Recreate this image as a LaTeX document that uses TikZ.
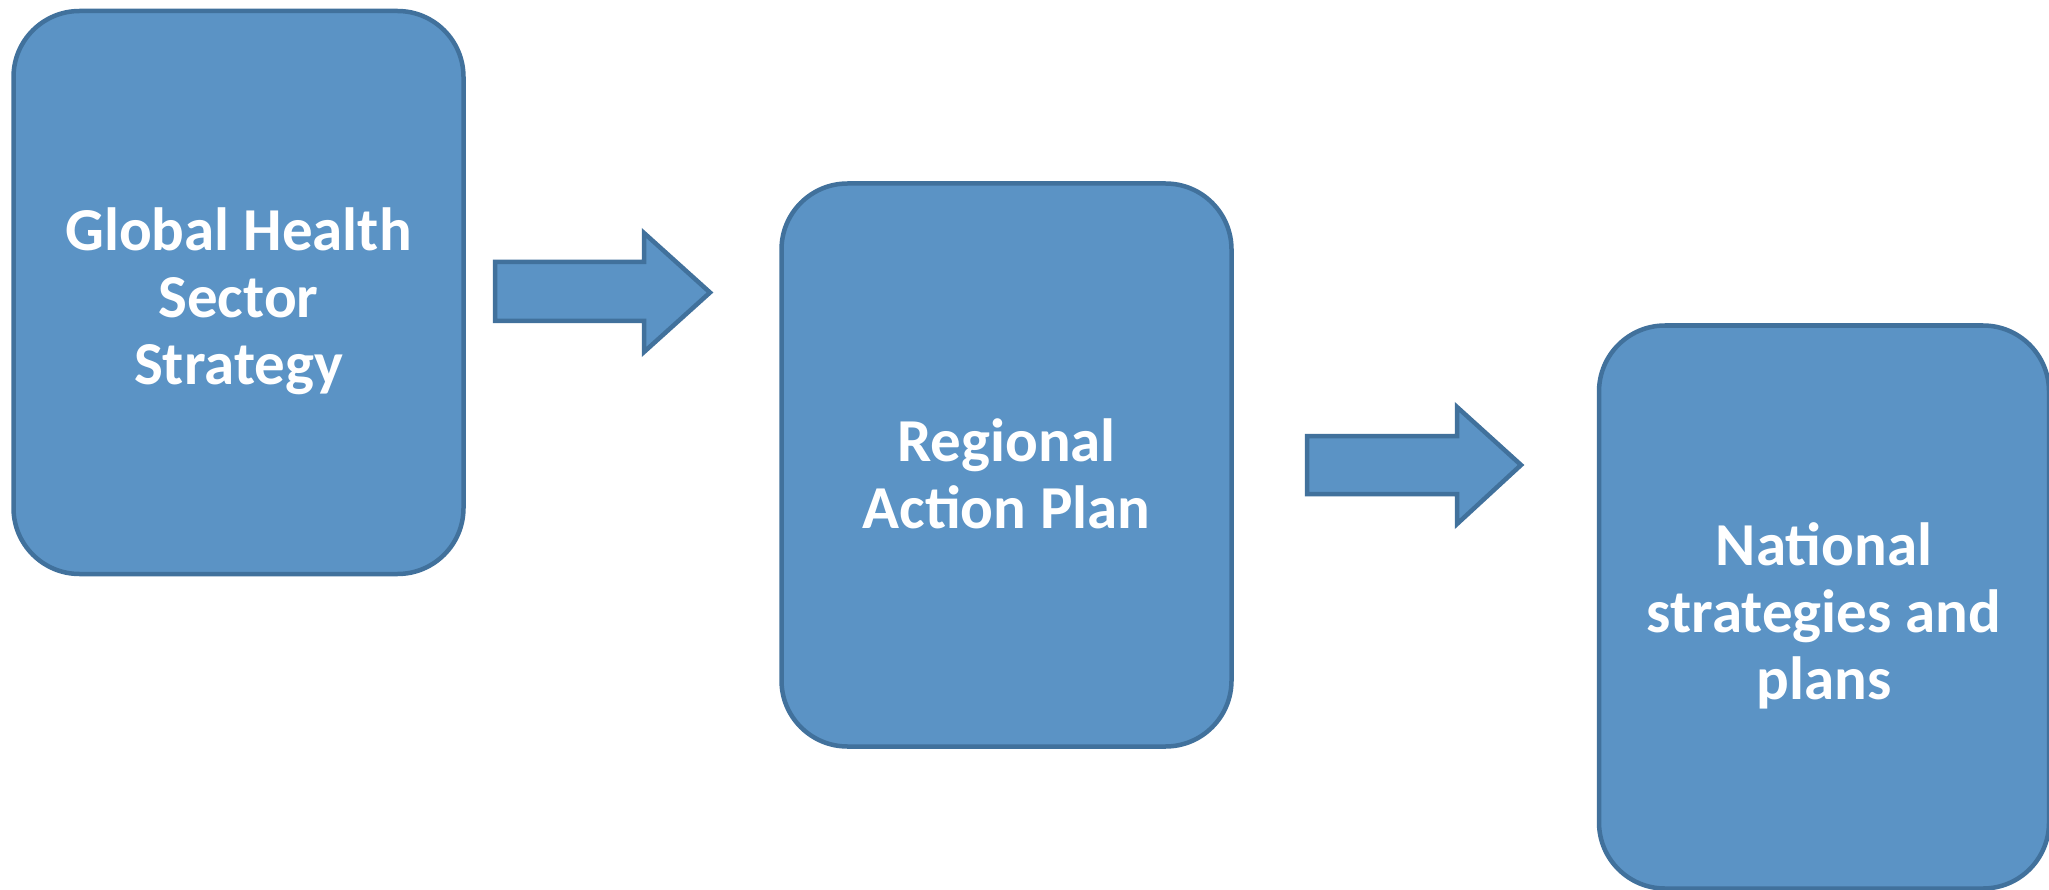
\documentclass[tikz,border=0pt]{standalone}
\usepackage{fontspec}
\setmainfont{Carlito}
\definecolor{boxfill}{HTML}{5B93C5}
\definecolor{boxline}{HTML}{41719C}
\begin{document}
\begin{tikzpicture}[x=1pt,y=-1pt,
  stage/.style={draw=boxline, fill=boxfill, line width=4.5pt, rounded corners=66pt,
    minimum width=450pt, minimum height=563pt, inner sep=0pt},
  stagetext/.style={font=\fontsize{61}{67}\selectfont\bfseries, text=white,
    align=center, inner sep=0pt, yshift=-9pt},
  blockarrow/.style={draw=boxline, fill=boxfill, line width=4.5pt, line join=miter}]
  % page frame
  \fill[white] (0,0) rectangle (2049,890);
  \useasboundingbox (0,0) rectangle (2049,890);

  % the three planning levels
  \node[stage] (global)   at (238.5,292.5) {};
  \node[stage] (regional) at (1006.5,465)  {};
  \node[stage] (national) at (1824,607)    {};
  \node[stagetext] (globaltext)   at (global.center)   {Global Health\\Sector\\Strategy};
  \node[stagetext] (regionaltext) at (regional.center) {Regional\\Action Plan};
  \node[stagetext] (nationaltext) at (national.center) {National\\strategies and\\plans};

  % block arrows between the levels
  \draw[blockarrow] (495,262) -- (644,262) -- (644,233) -- (710,292.5)
    -- (644,352) -- (644,321) -- (495,321) -- cycle;
  \draw[blockarrow] (1307,436) -- (1457,436) -- (1457,407) -- (1521,465)
    -- (1457,524) -- (1457,494) -- (1307,494) -- cycle;
\end{tikzpicture}
\end{document}
